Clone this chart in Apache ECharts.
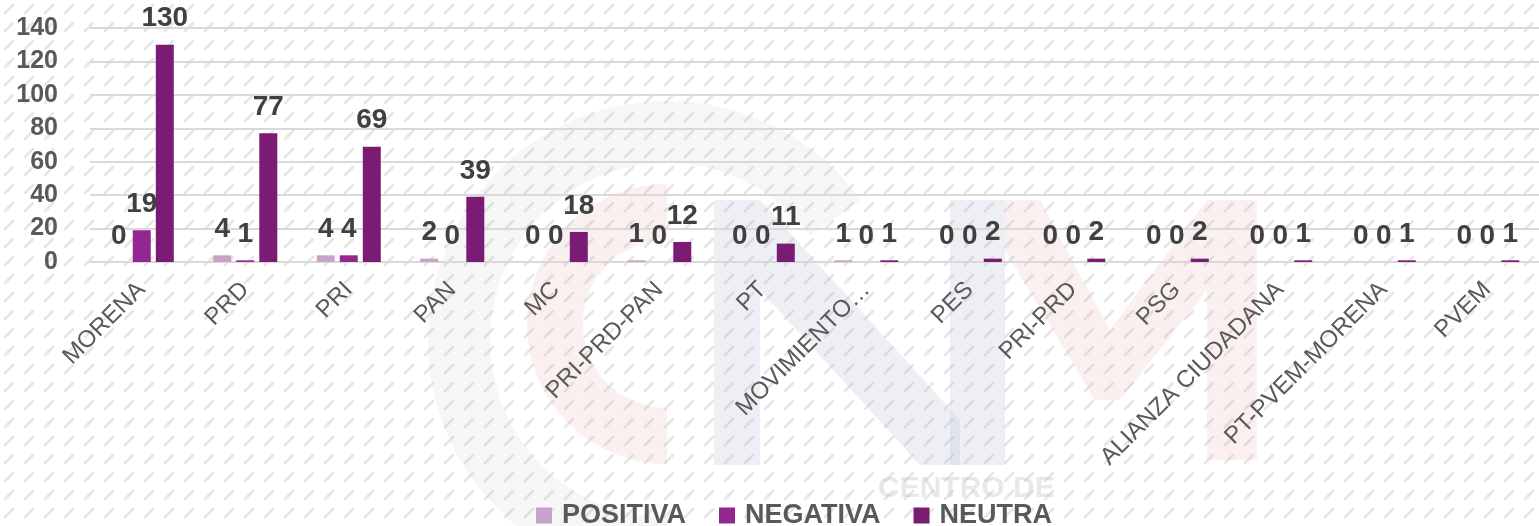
<!DOCTYPE html>
<html>
<head>
<meta charset="utf-8">
<style>
  html, body { margin: 0; padding: 0; background: #fff; }
  #chart { width: 1539px; height: 526px; }
</style>
<script src="https://cdn.jsdelivr.net/npm/echarts@6/dist/echarts.min.js"></script>
</head>
<body>
<div id="chart"></div>
<script>
// partidos y menciones por tipo
var partidos = ['MORENA', 'PRD', 'PRI', 'PAN', 'MC', 'PRI-PRD-PAN', 'PT', 'MOVIMIENTO…', 'PES', 'PRI-PRD', 'PSG', 'ALIANZA CIUDADANA', 'PT-PVEM-MORENA', 'PVEM'];
var positiva = [0, 4, 4, 2, 0, 1, 0, 1, 0, 0, 0, 0, 0, 0];
var negativa = [19, 1, 4, 0, 0, 0, 0, 0, 0, 0, 0, 0, 0, 0];
var neutra = [130, 77, 69, 39, 18, 12, 11, 1, 2, 2, 2, 1, 1, 1];

var colores = ['#c8a2c8', '#92278f', '#7b1c74'];

// fondo rayado tipo excel
var makeHatch = function(){
    var c = document.createElement('canvas');
    c.width = 20; c.height = 18;
    var ctx = c.getContext('2d');
    ctx.fillStyle = '#ffffff';
    ctx.fillRect(0, 0, 20, 18);
    ctx.strokeStyle = '#e6e6e6';
    ctx.lineWidth = 2.5;
    ctx.lineCap = 'round';
    ctx.beginPath();
    ctx.moveTo(5, 13);
    ctx.lineTo(13, 5);
    ctx.stroke();
    return c;
};

// marca de agua (logo CMM muy tenue)
var rosa = 'rgba(232,170,170,0.18)';
var azul = 'rgba(170,175,205,0.2)';
var gris = 'rgba(190,190,190,0.14)';
var marcaAgua = [
    { type: 'arc', z: -10, silent: true,
      shape: { cx: 667, cy: 340, r: 208, startAngle: Math.PI * 0.5, endAngle: Math.PI * 1.8 },
      style: { stroke: gris, lineWidth: 62, fill: null } },
    { type: 'arc', z: -10, silent: true,
      shape: { cx: 667, cy: 324, r: 112, startAngle: Math.PI * 0.5, endAngle: Math.PI * 1.5 },
      style: { stroke: rosa, lineWidth: 56, fill: null } },
    { type: 'polygon', z: -10, silent: true,
      shape: { points: [[714, 200], [760, 200], [960, 420], [960, 465], [920, 465], [760, 290], [760, 465], [714, 465]] },
      style: { fill: azul } },
    { type: 'rect', z: -10, silent: true,
      shape: { x: 950, y: 200, width: 55, height: 265 },
      style: { fill: azul } },
    { type: 'polygon', z: -10, silent: true,
      shape: { points: [[1005, 200], [1040, 200], [1110, 330], [1207, 200], [1257, 200], [1257, 460], [1207, 460], [1207, 290], [1120, 400], [1095, 400], [1005, 250]] },
      style: { fill: rosa } },
    { type: 'text', z: -10, silent: true,
      style: { x: 878, y: 474, text: 'CENTRO DE', fill: 'rgba(190,190,190,0.35)',
               font: 'bold 30px "Liberation Sans"' } }
];

var etiqueta = {
    show: true,
    position: 'top',
    distance: 12,
    color: '#404040',
    fontFamily: 'Liberation Sans',
    fontWeight: 'bold',
    fontSize: 28
};

var serie = function(nombre, datos, i){
    return {
        name: nombre,
        type: 'bar',
        data: datos,
        barWidth: 18,
        barGap: '28%',
        itemStyle: { color: colores[i] },
        label: etiqueta
    };
};

var chart = echarts.init(document.getElementById('chart'));
chart.setOption({
    animation: false,
    backgroundColor: { image: makeHatch(), repeat: 'repeat' },
    graphic: marcaAgua,
    grid: { left: 90, right: 0, top: 28, bottom: 264 },
    legend: {
        left: 531,
        top: 497,
        itemWidth: 16,
        itemHeight: 16,
        itemGap: 33,
        icon: 'rect',
        textStyle: {
            color: '#595959',
            fontFamily: 'Liberation Sans',
            fontWeight: 'bold',
            fontSize: 27,
            padding: [0, 0, 0, 5]
        },
        data: ['POSITIVA', 'NEGATIVA', 'NEUTRA']
    },
    xAxis: {
        type: 'category',
        data: partidos,
        axisLine: { lineStyle: { color: '#d9d9d9', width: 2 } },
        axisTick: { show: false },
        axisLabel: {
            rotate: 45,
            interval: 0,
            margin: 24,
            color: '#595959',
            fontFamily: 'Liberation Sans',
            fontSize: 24
        }
    },
    yAxis: {
        type: 'value',
        min: 0,
        max: 140,
        interval: 20,
        axisLine: { show: false },
        axisTick: { show: false },
        splitLine: { lineStyle: { color: '#d9d9d9', width: 2 } },
        axisLabel: {
            margin: 32,
            color: '#595959',
            fontFamily: 'Liberation Sans',
            fontWeight: 'bold',
            fontSize: 25
        }
    },
    series: [
        serie('POSITIVA', positiva, 0),
        serie('NEGATIVA', negativa, 1),
        serie('NEUTRA', neutra, 2)
    ]
});
</script>
</body>
</html>
